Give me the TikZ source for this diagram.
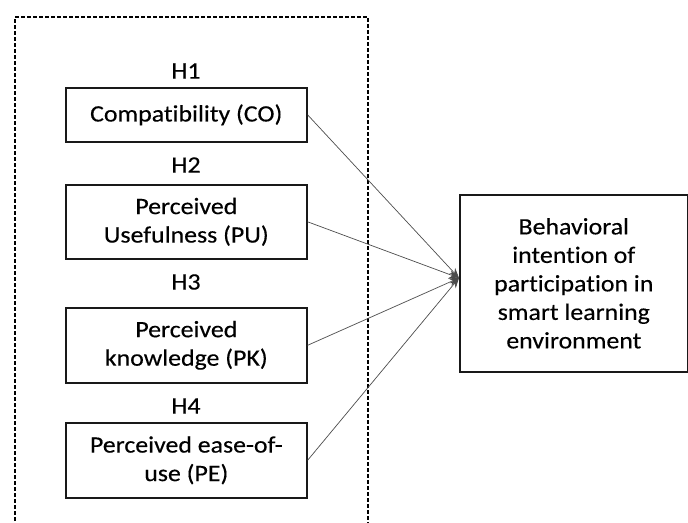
\documentclass[tikz,border=0pt]{standalone}
\usepackage{fontspec}
\setmainfont[Ligatures=NoCommon, FakeStretch=1.1, FakeBold=0.3]{Carlito}
\usetikzlibrary{arrows.meta}
\begin{document}
\begin{tikzpicture}[x=1bp,y=-1bp,
  txt/.style={font=\fontsize{23.5bp}{28.5bp}\selectfont, text=black},
  varbox/.style={txt, draw=black!90, line width=1.6bp, minimum width=241bp, align=center, inner sep=0pt, anchor=north west},
  hyp/.style={txt, inner sep=0pt},
  link/.style={draw=black!70, line width=0.7bp, -{Stealth[length=10bp,width=8bp]}}]
\useasboundingbox (0,0) rectangle (688,523);
\draw[line width=1.4bp, dash pattern=on 4bp off 2bp] (15,545) -- (15,17) -- (368,17) -- (368,545);
\node[hyp] (h1) at (186,71) {H1};
\node[hyp] (h2) at (186,165) {H2};
\node[hyp] (h3) at (186,282) {H3};
\node[hyp] (h4) at (186,406) {H4};
\node[varbox, minimum height=54bp] (b1) at (65,87) {Compatibility (CO)};
\node[varbox, minimum height=74bp] (b2) at (65,184) {Perceived\\Usefulness (PU)};
\node[varbox, minimum height=75bp] (b3) at (65,307) {Perceived\\knowledge (PK)};
\node[varbox, minimum height=75bp] (b4) at (65,422) {Perceived ease-of-\\use (PE)};
\node[varbox, minimum width=228bp, minimum height=177bp] (bi) at (459,194) {Behavioral\\intention of\\participation in\\smart learning\\environment};
\coordinate (t) at (459,278);
\draw[link] (b1.east) -- (t);
\draw[link] (b2.east) -- (t);
\draw[link] (b3.east) -- (t);
\draw[link] (b4.east) -- (t);
\end{tikzpicture}
\end{document}
